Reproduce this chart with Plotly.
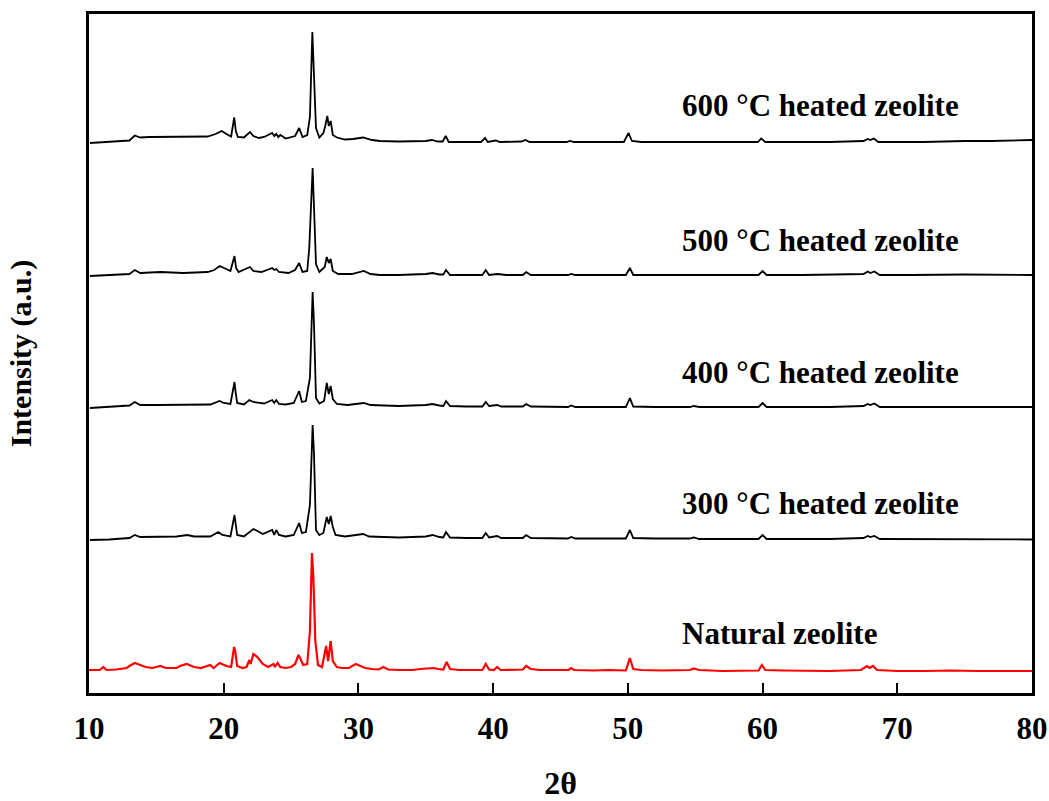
import plotly.graph_objects as go

# XRD patterns (2theta, intensity above each trace's own baseline, a.u.)
natural_x = [10.0, 10.8, 11.06, 11.3, 12.0, 12.8, 13.0, 13.4, 13.8, 14.2, 14.7, 15.3, 15.7, 16.5, 16.75,
             17.25, 17.8, 18.3, 19.0, 19.25, 19.7, 20.2, 20.55, 20.77, 20.85, 21.0, 21.4, 21.7, 21.9, 22.0,
             22.2, 22.5, 22.9, 23.3, 23.7, 23.8, 24.0, 24.2, 24.6, 25.0, 25.3, 25.55, 25.7, 25.9, 26.2,
             26.4, 26.55, 26.65, 26.8, 27.0, 27.3, 27.6, 27.75, 27.94, 28.1, 28.4, 28.8, 29.3, 29.8, 30.1,
             30.5, 31.0, 31.5, 31.85, 32.2, 33.0, 34.0, 34.6, 35.2, 35.6, 35.9, 36.3, 36.55, 36.8, 37.5,
             38.5, 39.2, 39.45, 39.7, 40.05, 40.3, 40.55, 41.5, 42.2, 42.45, 42.8, 43.5, 44.5, 45.6, 45.8,
             46.0, 47.5, 48.5, 49.85, 50.15, 50.4, 51.0, 52.5, 54.6, 54.9, 55.3, 57.0, 59.7, 59.95, 60.2,
             61.5, 63.0, 65.0, 67.3, 67.75, 67.95, 68.2, 68.5, 70.0, 72.0, 74.0, 76.0, 78.0, 80.0]
natural_y = [1, 1, 4, 1, 1.5, 3, 5, 8, 6, 4, 3, 5, 3, 3, 5,
             7, 4, 3, 6, 3, 8, 5, 4, 24, 20, 5, 3, 4, 11, 7,
             17, 14, 7, 4, 7, 4, 8, 4, 3, 4, 7, 16, 12, 6, 7,
             40, 118, 95, 30, 6, 4, 25, 10, 30, 10, 4, 3, 3, 7, 5,
             3, 2, 1.5, 4, 1.5, 1, 1, 2, 3, 3, 2, 1.5, 9, 2, 1,
             1, 1, 7, 1.5, 1, 4, 1, 1, 1.5, 5, 2, 1, 1, 1, 3,
             1, 0.5, 1, 0.5, 13, 2, 1, 0.5, 1, 2.5, 1, 0, 0.5, 6, 1,
             0.5, 0, 0, 1, 5, 3, 5, 1, 0, 0, 0.5, 0, 0, 0]

h300_x = [10.07, 11.5, 13.0, 13.4, 13.8, 15.0, 16.5, 17.3, 17.8, 19.0, 19.6, 19.9, 20.5, 20.8, 20.9,
          21.0, 21.5, 21.8, 22.2, 22.5, 22.9, 23.6, 23.75, 23.9, 24.1, 24.6, 25.2, 25.6, 25.8, 26.1,
          26.4, 26.6, 26.7, 26.85, 27.1, 27.4, 27.65, 27.8, 27.94, 28.1, 28.3, 29.0, 30.35, 30.8, 31.5,
          33.0, 35.0, 35.5, 36.0, 36.3, 36.5, 36.8, 38.0, 39.2, 39.45, 39.7, 40.3, 40.6, 42.2, 42.45,
          42.8, 45.55, 45.8, 46.1, 48.0, 49.85, 50.15, 50.4, 52.0, 54.6, 54.9, 55.3, 57.5, 59.7, 60.0,
          60.3, 63.0, 65.0, 67.5, 67.8, 68.0, 68.3, 68.7, 72.0, 76.0, 80.0]
h300_y = [0, 0.5, 2, 5, 3, 3, 3.5, 5, 3.5, 3.5, 8, 5, 3.5, 25, 15,
          5, 3.5, 7, 11, 9, 6, 10, 5, 10, 5, 3.5, 5, 17, 7, 8,
          35, 115, 87, 10, 5, 7, 23, 16, 24, 13, 5, 3.5, 6, 3.5, 3,
          2.5, 3.5, 5, 3, 2.5, 8, 2.5, 2, 2, 7, 2.5, 4, 2, 2, 5,
          2, 1.5, 3, 1.5, 1.5, 1.5, 10, 2, 1.5, 1.5, 2.5, 1, 1, 1, 5,
          1, 1, 1, 2, 4, 3, 4, 1, 1, 1, 0.5]

h400_x = [10.07, 11.5, 13.0, 13.4, 13.8, 15.0, 16.5, 17.3, 17.8, 19.0, 19.7, 20.0, 20.5, 20.8, 20.9,
          21.0, 21.5, 21.9, 22.2, 22.6, 23.0, 23.6, 23.75, 23.9, 24.1, 24.6, 25.2, 25.6, 25.8, 26.1,
          26.4, 26.6, 26.7, 26.85, 27.1, 27.45, 27.65, 27.8, 27.94, 28.1, 28.4, 29.2, 30.4, 30.9, 31.6,
          33.0, 35.0, 35.5, 36.0, 36.3, 36.5, 36.8, 38.0, 39.2, 39.45, 39.7, 40.3, 40.6, 42.2, 42.45,
          42.8, 45.55, 45.8, 46.1, 48.0, 49.85, 50.15, 50.4, 52.0, 54.6, 54.9, 55.3, 57.5, 59.7, 60.0,
          60.3, 63.0, 65.0, 67.5, 67.8, 68.0, 68.3, 68.7, 72.0, 76.0, 80.0]
h400_y = [0, 1, 2.5, 6, 3, 3, 3, 3.5, 3, 3.5, 7, 5, 4, 26, 14,
          5, 3.5, 8, 6, 5, 4.5, 8, 5, 8, 4, 3.5, 5, 17, 6, 7,
          30, 116, 85, 10, 4.5, 7, 25, 14, 22, 9, 4, 3, 5, 3, 2.5,
          2, 3, 4, 2.5, 2, 7, 2, 1.5, 1.5, 6, 2, 3, 1.5, 1.5, 4,
          1.5, 1, 2.5, 1, 1, 1, 10, 1.5, 1, 1, 2, 1, 1, 1, 5,
          1, 1, 1, 2, 4, 3, 4.5, 1, 1, 1.5, 1]

h500_x = [10.07, 12.0, 13.0, 13.4, 13.8, 15.3, 17.0, 18.8, 19.3, 19.7, 20.2, 20.5, 20.8, 20.92, 21.1,
          21.95, 22.2, 22.8, 23.6, 23.75, 23.9, 24.1, 24.8, 25.3, 25.6, 25.85, 26.2, 26.35, 26.6, 26.7,
          26.85, 27.1, 27.5, 27.65, 27.8, 27.94, 28.1, 28.5, 29.5, 30.4, 30.9, 31.6, 33.0, 35.0, 35.5,
          36.0, 36.3, 36.5, 36.8, 38.0, 39.2, 39.45, 39.7, 40.3, 41.0, 42.2, 42.45, 42.8, 45.55, 45.8,
          46.1, 47.0, 49.85, 50.15, 50.4, 52.0, 54.6, 54.9, 55.2, 57.0, 59.7, 60.0, 60.3, 63.0, 67.5,
          67.8, 68.0, 68.3, 68.7, 71.0, 75.0, 80.0]
h500_y = [0, 1, 2, 6, 3, 4, 3, 4, 6, 10, 7, 5, 20, 8, 4,
          9, 5, 4, 8, 6, 7, 4, 3, 6, 13, 4, 5, 28, 108, 75,
          12, 4, 9, 19, 13, 17, 5, 2, 2, 5, 2, 1, 1, 2, 3,
          1.5, 1.5, 6, 1, 1, 1, 6, 1, 2, 1, 1, 4, 1, 1, 2,
          1, 1, 1, 8, 1, 1, 1, 1.5, 1, 1, 1, 5, 1, 1, 2,
          4.5, 3, 4.5, 1, 1, 1.5, 1]

h600_x = [10.07, 11.5, 13.0, 13.4, 13.8, 14.5, 15.5, 16.5, 17.5, 18.8, 19.4, 19.85, 20.2, 20.55, 20.78,
          20.9, 21.05, 21.5, 21.95, 22.2, 22.6, 23.0, 23.6, 23.75, 23.9, 24.05, 24.2, 24.6, 25.3, 25.6,
          25.85, 26.2, 26.4, 26.58, 26.7, 26.85, 27.1, 27.4, 27.52, 27.69, 27.8, 27.94, 28.1, 28.4, 29.0,
          29.6, 30.35, 31.0, 31.6, 33.0, 35.0, 35.45, 35.9, 36.25, 36.48, 36.7, 38.0, 39.1, 39.4, 39.6,
          40.2, 40.5, 42.1, 42.4, 42.7, 45.45, 45.7, 46.0, 47.0, 49.7, 50.05, 50.3, 51.0, 53.0, 54.6,
          54.9, 55.2, 57.0, 59.65, 59.9, 60.2, 63.0, 65.0, 67.5, 67.8, 68.0, 68.25, 68.6, 70.0, 72.0,
          75.0, 77.0, 80.0]
h600_y = [0, 1, 2.5, 7.5, 5.5, 6, 6, 6.5, 6.5, 6.5, 9, 12, 9, 6.5, 25.5,
          12, 6, 5.5, 11, 7, 5, 6, 10, 7, 9, 6, 8, 4.5, 7, 15,
          6, 8, 26, 111, 68, 15, 5.5, 10, 16, 27, 17, 22, 8, 5.5, 3.5,
          4, 5.5, 3, 2, 1.5, 2, 3, 1.5, 1.5, 7, 1, 1, 1, 5, 1,
          2.5, 1, 1.5, 3, 1, 1, 2, 1, 1, 1, 10, 2, 1, 1, 1,
          1.5, 1, 1, 1, 4.5, 1, 1, 1, 2, 4, 3, 4.5, 1, 1, 1,
          2, 2, 3]

labels = ["Natural zeolite", "300 °C heated zeolite", "400 °C heated zeolite",
          "500 °C heated zeolite", "600 °C heated zeolite"]
series_x = [natural_x, h300_x, h400_x, h500_x, h600_x]
series_y = [natural_y, h300_y, h400_y, h500_y, h600_y]
colors = ["#ff0000", "black", "black", "black", "black"]
offsets = [22, 153, 285, 417, 550]      # vertical stacking of the patterns
label_y = [60, 190, 321, 453, 588]

FONT = "Liberation Serif, Times New Roman, serif"

fig = go.Figure()
for xs, ys, c, off in zip(series_x, series_y, colors, offsets):
    fig.add_trace(go.Scatter(x=xs, y=[v + off for v in ys], mode="lines",
                             line=dict(color=c, width=2.2 if c != "black" else 1.8),
                             showlegend=False, hoverinfo="skip"))

for text, ly in zip(labels, label_y):
    fig.add_annotation(x=53.9, y=ly, text=text, showarrow=False, xanchor="left", yanchor="middle",
                       font=dict(family=FONT, size=31, color="black", weight="bold"))

fig.update_layout(
    width=1049, height=801,
    margin=dict(l=89, r=17, t=14, b=108, autoexpand=False),
    paper_bgcolor="white", plot_bgcolor="white",
    font=dict(family=FONT, color="black"),
)
fig.update_xaxes(range=[10, 80], tick0=10, dtick=10, ticks="inside", ticklen=10, tickwidth=2,
                 tickcolor="black", showline=True, linecolor="black", linewidth=2.5, mirror=True,
                 showgrid=False, zeroline=False, ticklabelstandoff=6, automargin=False,
                 tickfont=dict(family=FONT, size=31, weight="bold"),
                 title=dict(text="2θ", font=dict(family=FONT, size=32, weight="bold"), standoff=32))
fig.update_yaxes(range=[0, 679], showticklabels=False, ticks="", showline=True, linecolor="black",
                 linewidth=2.5, mirror=True, showgrid=False, zeroline=False, automargin=False,
                 title=dict(text="Intensity (a.u.)", font=dict(family=FONT, size=30, weight="bold"),
                            standoff=46))

# drop the default 8 px body margin so the 1049x801 figure fills the window exactly
fig.write_html("out.html", config={"displayModeBar": False},
               post_script="document.body.style.margin='0';"
                           "document.body.style.overflow='hidden';")
